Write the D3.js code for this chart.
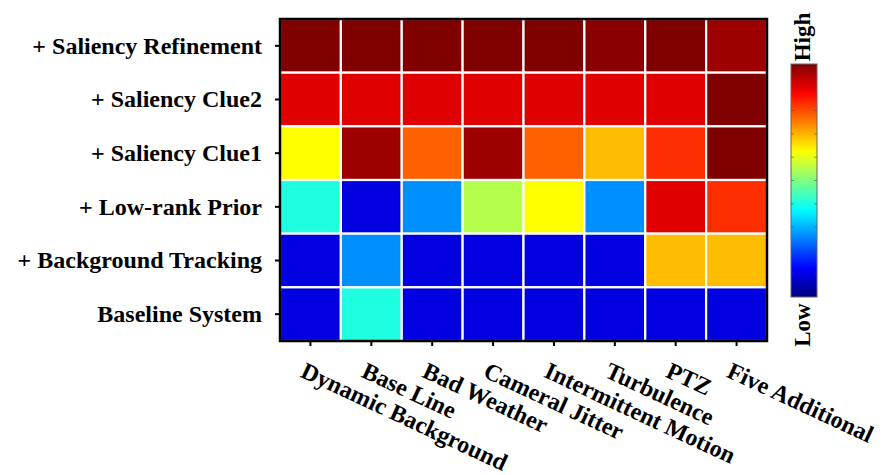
<!DOCTYPE html>
<html>
<head>
<meta charset="utf-8">
<script src="https://cdn.jsdelivr.net/npm/d3@7"></script>
<style>
  html, body { margin: 0; padding: 0; background: #fff; }
  svg { display: block; }
  text { font-family: "Liberation Serif", "Times New Roman", serif; font-weight: bold; fill: #000; }
</style>
</head>
<body>
<svg id="chart" width="884" height="475"></svg>
<script>
// Scene categories (columns)
const categories = ["Dynamic Background", "Base Line", "Bad Weather", "Cameral Jitter",
  "Intermittent Motion", "Turbulence", "PTZ", "Five Additional"];

// System configurations (rows, top to bottom)
const systems = ["+ Saliency Refinement", "+ Saliency Clue2", "+ Saliency Clue1",
  "+ Low-rank Prior", "+ Background Tracking", "Baseline System"];

// Normalized scores per configuration (0 = low, 1 = high)
const saliencyRefinement = [1.00, 1.00, 1.00, 1.00, 1.00, 0.99, 1.00, 0.97];
const saliencyClue2      = [0.905, 0.905, 0.905, 0.905, 0.905, 0.905, 0.905, 1.00];
const saliencyClue1      = [0.625, 0.97, 0.78, 0.97, 0.78, 0.69, 0.83, 1.00];
const lowRankPrior       = [0.405, 0.095, 0.265, 0.55, 0.625, 0.265, 0.905, 0.83];
const backgroundTracking = [0.095, 0.265, 0.095, 0.095, 0.095, 0.095, 0.69, 0.69];
const baselineSystem     = [0.095, 0.405, 0.095, 0.095, 0.095, 0.095, 0.095, 0.095];

const rows = [saliencyRefinement, saliencyClue2, saliencyClue1,
  lowRankPrior, backgroundTracking, baselineSystem];

const colorbarLabels = ["Low", "High"];

// MATLAB-style jet colormap
function jet(v) {
  const c = x => Math.max(0, Math.min(1, x));
  const r = c(1.5 - Math.abs(4 * v - 3));
  const g = c(1.5 - Math.abs(4 * v - 2));
  const b = c(1.5 - Math.abs(4 * v - 1));
  return d3.rgb(r * 255, g * 255, b * 255).formatHex();
}

const svg = d3.select("#chart");
const plot = { left: 280, top: 19, width: 487, height: 322 };

const x = d3.scaleBand().domain(categories).range([plot.left, plot.left + plot.width]).padding(0);
const y = d3.scaleBand().domain(systems).range([plot.top, plot.top + plot.height]).padding(0);
const color = d3.scaleSequential(jet).domain([0, 1]);

const cells = [];
rows.forEach((vals, i) => vals.forEach((v, j) => cells.push({ sys: systems[i], cat: categories[j], v })));

svg.append("g").selectAll("rect").data(cells).join("rect")
  .attr("x", d => x(d.cat))
  .attr("y", d => y(d.sys))
  .attr("width", x.bandwidth())
  .attr("height", y.bandwidth())
  .attr("fill", d => color(d.v))
  .attr("stroke", "#fff")
  .attr("stroke-width", 2.2);

// Frame
svg.append("rect")
  .attr("x", plot.left).attr("y", plot.top)
  .attr("width", plot.width).attr("height", plot.height)
  .attr("fill", "none").attr("stroke", "#000").attr("stroke-width", 2.5);

// Y axis
const yAxis = svg.append("g")
  .attr("transform", `translate(${plot.left},0)`)
  .call(d3.axisLeft(y).tickSize(5).tickPadding(13));
yAxis.select(".domain").remove();
yAxis.selectAll(".tick line").attr("stroke", "#000").attr("stroke-width", 2);
yAxis.selectAll(".tick text")
  .style("font-size", "24px")
  .attr("fill", "#000");

// X axis with slanted labels
const xAxis = svg.append("g")
  .attr("transform", `translate(0,${plot.top + plot.height})`)
  .call(d3.axisBottom(x).tickSize(5).tickPadding(0));
xAxis.select(".domain").remove();
xAxis.selectAll(".tick line").attr("stroke", "#000").attr("stroke-width", 2);
xAxis.selectAll(".tick text")
  .style("font-size", "24px")
  .attr("fill", "#000")
  .attr("text-anchor", "start")
  .attr("y", 0).attr("dy", 0)
  .attr("transform", "translate(-4,20) rotate(25) translate(0,17)");

// Colorbar
const cb = { x: 791, y: 64, w: 26, h: 233 };
const defs = svg.append("defs");
const grad = defs.append("linearGradient").attr("id", "jetGrad")
  .attr("x1", 0).attr("y1", 1).attr("x2", 0).attr("y2", 0);
d3.range(0, 1.0001, 0.02).forEach(t => {
  grad.append("stop").attr("offset", t).attr("stop-color", jet(t));
});
svg.append("rect")
  .attr("x", cb.x).attr("y", cb.y).attr("width", cb.w).attr("height", cb.h)
  .attr("fill", "url(#jetGrad)").attr("stroke", "#666").attr("stroke-width", 1);

const cbScale = d3.scaleLinear().domain([0, 1]).range([cb.y + cb.h, cb.y]);
const cbTicks = d3.range(0.1, 0.95, 0.1);
svg.append("g").selectAll("line.l").data(cbTicks).join("line")
  .attr("x1", cb.x).attr("x2", cb.x + 3)
  .attr("y1", d => cbScale(d)).attr("y2", d => cbScale(d))
  .attr("stroke", "#444").attr("stroke-width", 0.8).attr("opacity", 0.6);
svg.append("g").selectAll("line.r").data(cbTicks).join("line")
  .attr("x1", cb.x + cb.w - 3).attr("x2", cb.x + cb.w)
  .attr("y1", d => cbScale(d)).attr("y2", d => cbScale(d))
  .attr("stroke", "#444").attr("stroke-width", 0.8).attr("opacity", 0.6);

svg.append("text")
  .attr("transform", `translate(${cb.x + 19},37) rotate(-90)`)
  .attr("text-anchor", "middle")
  .style("font-size", "23px")
  .text(colorbarLabels[1]);
svg.append("text")
  .attr("transform", `translate(${cb.x + 19},325) rotate(-90)`)
  .attr("text-anchor", "middle")
  .style("font-size", "23px")
  .text(colorbarLabels[0]);
</script>
</body>
</html>
